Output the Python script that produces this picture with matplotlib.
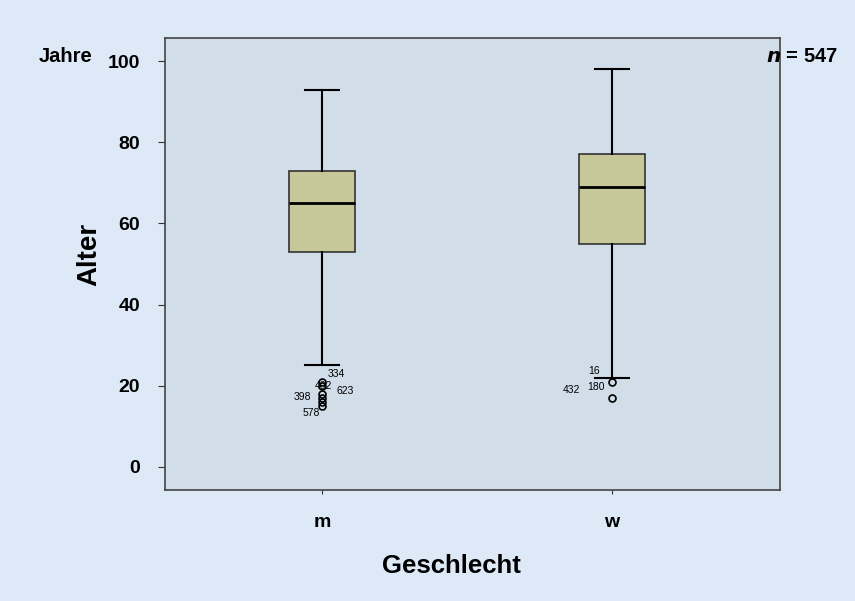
import matplotlib
matplotlib.use("Agg")
import matplotlib.pyplot as plt

plt.rcParams['font.family'] = ['Liberation Sans', 'DejaVu Sans']

groups = ["m", "w"]
whislo = [25, 22]
q1 = [53, 55]
med = [65, 69]
q3 = [73, 77]
whishi = [93, 98]
outliers = [[21, 20, 18, 17, 16, 15], [21, 17]]
outlier_labels = [
    [("334", 336, 374), ("402", 323, 386), ("623", 345, 391), ("398", 302, 397), ("578", 311, 413)],
    [("16", 594, 371), ("432", 571, 390), ("180", 596, 387)],
]

fig = plt.figure(figsize=(8.55, 6.01), dpi=100, facecolor="#dde9f6")
ax = fig.add_axes([165 / 855, 1 - 490 / 601, 615 / 855, 452 / 601])
ax.set_facecolor("#d1dde9")

stats = []
for i, g in enumerate(groups):
    stats.append({"label": g, "whislo": whislo[i], "q1": q1[i], "med": med[i],
                  "q3": q3[i], "whishi": whishi[i], "fliers": outliers[i]})

ax.bxp(stats, positions=[1, 2], widths=0.23, patch_artist=True,
       boxprops=dict(facecolor="#c6c899", edgecolor="#333333", linewidth=1.2),
       medianprops=dict(color="black", linewidth=2),
       whiskerprops=dict(color="black", linewidth=1.5),
       capprops=dict(color="black", linewidth=1.5),
       capwidths=0.12,
       flierprops=dict(marker="o", markerfacecolor="none", markeredgecolor="black",
                       markersize=5, markeredgewidth=1.2))

ax.set_xlim(0.459, 2.579)
ax.set_ylim(-5.7, 105.7)
ax.set_yticks([0, 20, 40, 60, 80, 100])
ax.tick_params(axis="y", labelsize=14, length=5, pad=13, color="#333333")
ax.tick_params(axis="x", labelsize=14, length=3, pad=14, color="#333333")
for lbl in ax.get_xticklabels() + ax.get_yticklabels():
    lbl.set_fontweight("bold")
for sp in ax.spines.values():
    sp.set_color("#444444")
    sp.set_linewidth(1.2)

fig.text(89 / 855, 1 - 254 / 601, "Alter", fontsize=20, fontweight="bold", rotation=90,
         ha="center", va="center")
fig.text(451 / 855, 1 - 566 / 601, "Geschlecht", fontsize=18.5, fontweight="bold",
         ha="center", va="center")

# outlier case numbers (pixel positions in figure space)
for labels in outlier_labels:
    for txt, px, py in labels:
        fig.text(px / 855, 1 - py / 601, txt, fontsize=7.5, ha="center", va="center")

fig.text(66 / 855, 1 - 57 / 601, "Jahre", fontsize=14.5, fontweight="bold", ha="center", va="center")
fig.text(802 / 855, 1 - 57 / 601, "$\\boldsymbol{n}$ = 547", fontsize=14.5, fontweight="bold",
         ha="center", va="center")

fig.savefig("out.png", dpi=100, facecolor=fig.get_facecolor())
